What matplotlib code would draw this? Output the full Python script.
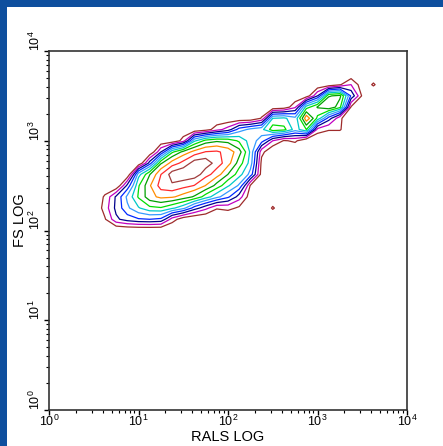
import numpy as np
import matplotlib
matplotlib.use("Agg")
import matplotlib.pyplot as plt
from matplotlib.patches import Rectangle

plt.rcParams["font.family"] = ["Liberation Sans", "DejaVu Sans"]

# channel centres of the 2D histogram, in decades (0.125 decade bins)
rals_decades = np.linspace(0.5, 3.75, 27)
fs_decades = np.linspace(2.0, 3.75, 15)

# smoothed event density per bin, in contour-level units (one row per FS bin, bottom to top)
density = [
    [0, 0, 0, 0, 0, 0, 0, 0, 0, 0, 0, 0, 0, 0, 0, 0, 0, 0, 0, 0, 0, 0, 0, 0, 0, 0, 0],
    [0, 0.9, 2.8, 3.5, 3.9, 4.0, 3.8, 1.5, 0.3, 0, 0, 0, 0, 0, 0, 0, 0, 0, 0, 0, 0, 0, 0, 0, 0, 0, 0],
    [0, 1.5, 3.3, 4.8, 5.9, 6.75, 6.9, 6.2, 5.3, 3.5, 2.3, 1.1, 1.3, 0.8, 0, 0, 1.15, 0, 0, 0, 0, 0, 0, 0, 0, 0, 0],
    [0, 1.2, 3.2, 5.25, 7.14, 8.68, 9.26, 9.14, 8.57, 7.84, 6.5, 5.3, 4.2, 2.5, 0.3, 0, 0, 0, 0, 0, 0, 0, 0, 0, 0, 0, 0],
    [0, 0, 0, 3.3, 6.9, 8.9, 10.47, 10.85, 10.4, 9.95, 8.97, 7.6, 6.14, 4.8, 0.9, 0, 0, 0, 0, 0, 0, 0, 0, 0, 0, 0, 0],
    [0, 0, 0, 0, 5.6, 7.95, 9.98, 11.5, 11.8, 11.6, 10.39, 9.47, 7.98, 6.4, 4.6, 0.5, 0, 0, 0, 0, 0, 0, 0, 0, 0, 0, 0],
    [0, 0, 0, 0, 0, 3.5, 7.86, 9.47, 10.35, 11.5, 11.6, 10.52, 9.38, 7.5, 5.55, 0.7, 0, 0, 0, 0, 0, 0, 0, 0, 0, 0, 0],
    [0, 0, 0, 0, 0, 0, 3.0, 6.8, 8.36, 9.39, 10.06, 10.16, 9.6, 8.4, 5.8, 1.3, 0, 0, 0, 0, 0, 0, 0, 0, 0, 0, 0],
    [0, 0, 0, 0, 0, 0, 0, 0, 1.5, 5.8, 7.37, 7.82, 7.63, 6.8, 5.5, 4.5, 2.0, 0.9, 1.2, 0, 0, 0, 0, 0, 0, 0, 0],
    [0, 0, 0, 0, 0, 0, 0, 0, 0, 0, 0.5, 1.6, 2.5, 4.5, 5.3, 5.7, 7.6, 7.3, 5.5, 7.0, 1.6, 1.1, 1.1, 0, 0, 0, 0],
    [0, 0, 0, 0, 0, 0, 0, 0, 0, 0, 0, 0, 0, 0, 0, 1.1, 6.0, 6.2, 5.3, 9.8, 6.7, 3.5, 1.2, 0, 0, 0, 0],
    [0, 0, 0, 0, 0, 0, 0, 0, 0, 0, 0, 0, 0, 0, 0, 0, 0, 0.3, 1.8, 6.5, 8.1, 8.9, 7.3, 0.9, 0, 0, 0],
    [0, 0, 0, 0, 0, 0, 0, 0, 0, 0, 0, 0, 0, 0, 0, 0, 0, 0, 0, 0.35, 3.0, 7.9, 8.3, 3.8, 0.8, 0, 0],
    [0, 0, 0, 0, 0, 0, 0, 0, 0, 0, 0, 0, 0, 0, 0, 0, 0, 0, 0, 0, 0, 0.1, 0.9, 2.0, 0.3, 1.15, 0],
    [0, 0, 0, 0, 0, 0, 0, 0, 0, 0, 0, 0, 0, 0, 0, 0, 0, 0, 0, 0, 0, 0, 0, 0, 0, 0, 0],
]

contour_levels = [1, 2, 3, 4, 5, 6, 7, 8, 9, 10, 11]
contour_colors = ["#9E2B2B", "#C000C0", "#00008B", "#0028FF", "#3399FF", "#00C8C8",
                  "#00DD00", "#00A000", "#FF8C00", "#FF2A2A", "#A03C3C"]

W, H = 443, 446
fig = plt.figure(figsize=(W / 100, H / 100), dpi=100, facecolor="#0E4F9E")
# white slide panel
fig.add_artist(Rectangle((7 / W, 0), 1 - 7 / W, 1 - 7 / H, transform=fig.transFigure,
                         facecolor="white", edgecolor="none", zorder=0))

ax = fig.add_axes([49 / W, 1 - 410 / H, 358 / W, 359 / H])
ax.set_facecolor("white")

X, Y = np.meshgrid(10 ** rals_decades, 10 ** fs_decades)
ax.contour(X, Y, np.array(density), levels=contour_levels, colors=contour_colors,
           linewidths=0.9)

ax.set_xscale("log")
ax.set_yscale("log")
ax.set_xlim(1, 1e4)
ax.set_ylim(1, 1e4)
ax.set_xticks([1, 10, 100, 1000, 10000])
ax.set_yticks([1, 10, 100, 1000, 10000])

for side in ["left", "bottom", "top", "right"]:
    ax.spines[side].set_color("#333333")
    ax.spines[side].set_linewidth(1.2)

ax.tick_params(which="major", direction="out", length=3.5, width=1, labelsize=9,
               pad=1, top=False, right=False)
ax.tick_params(axis="x", which="major", pad=-1)
ax.tick_params(which="minor", direction="out", length=2, width=0.8, top=False, right=False)
plt.setp(ax.get_yticklabels(), rotation=90, va="bottom", ha="right")

ax.set_xlabel("RALS LOG", fontsize=10.5, va="center")
ax.xaxis.set_label_coords(0.5, -0.076)
ax.set_ylabel("FS LOG", fontsize=10.5, va="center", ha="center")
ax.yaxis.set_label_coords(-0.081, 0.53)

fig.savefig("out.png", dpi=100, facecolor=fig.get_facecolor())
